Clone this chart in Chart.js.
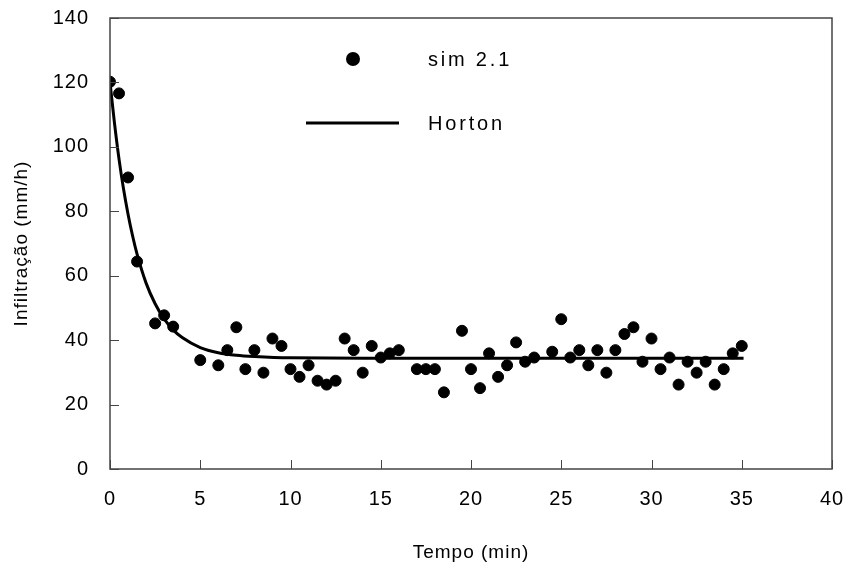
<!DOCTYPE html>
<html>
<head>
<meta charset="utf-8">
<script src="https://cdn.jsdelivr.net/npm/chart.js@4.4.1/dist/chart.umd.min.js"></script>
<style>
  html, body { margin: 0; padding: 0; background: #fff; }
  #wrap { width: 846px; height: 571px; }
</style>
</head>
<body>
<div id="wrap"><canvas id="chart" width="846" height="571"></canvas></div>
<script>
// measured infiltration (sim 2.1)
const simTime = [0, 0.5, 1, 1.5, 2.5, 3, 3.5, 5, 6, 6.5, 7, 7.5, 8, 8.5, 9, 9.5, 10,
  10.5, 11, 11.5, 12, 12.5, 13, 13.5, 14, 14.5, 15, 15.5, 16, 17, 17.5, 18, 18.5,
  19.5, 20, 20.5, 21, 21.5, 22, 22.5, 23, 23.5, 24.5, 25, 25.5, 26, 26.5, 27, 27.5,
  28, 28.5, 29, 29.5, 30, 30.5, 31, 31.5, 32, 32.5, 33, 33.5, 34, 34.5, 35];
const simRate = [120.2, 116.6, 90.5, 64.4, 45.2, 47.7, 44.2, 33.8, 32.2, 36.9, 44.0, 31.0, 36.9, 29.9, 40.5, 38.2, 31.0,
  28.6, 32.2, 27.4, 26.2, 27.4, 40.5, 36.9, 29.9, 38.2, 34.6, 35.9, 36.9, 31.0, 31.0, 31.0, 23.8,
  42.9, 31.0, 25.1, 35.9, 28.6, 32.2, 39.3, 33.3, 34.6, 36.4, 46.5, 34.6, 36.9, 32.2, 36.9, 29.9,
  36.9, 41.9, 44.0, 33.3, 40.5, 31.0, 34.6, 26.2, 33.3, 29.9, 33.3, 26.2, 31.0, 35.9, 38.2];

// fitted Horton curve
const hortonTime = [0, 0.25, 0.5, 0.75, 1, 1.25, 1.5, 2, 2.5, 3, 3.5, 4, 5, 6, 7, 8, 10, 15, 20, 25, 30, 35.1];
const hortonRate = [120, 107.3, 96.2, 86.9, 79.1, 72.4, 66.7, 57.7, 51.3, 46.6, 43.2, 40.8, 37.7, 36.1, 35.3, 34.9, 34.5, 34.4, 34.4, 34.4, 34.4, 34.4];

const xTicks = [0, 5, 10, 15, 20, 25, 30, 35, 40];
const yTicks = [0, 20, 40, 60, 80, 100, 120, 140];

const FONT = '"Liberation Sans", Arial, sans-serif';

const toPoints = (xs, ys) => xs.map((x, i) => ({ x: x, y: ys[i] }));

// a little letter spacing for the axis text
const spacingPlugin = {
  id: 'spacing',
  beforeUpdate(chart) { chart.ctx.letterSpacing = '1px'; },
  beforeDraw(chart) { chart.ctx.letterSpacing = '1px'; }
};

// frame, inward ticks and the legend inside the plot
const framePlugin = {
  id: 'frame',
  afterDraw(chart) {
    const ctx = chart.ctx;
    const a = chart.chartArea;
    const xs = chart.scales.x, ys = chart.scales.y;
    ctx.save();
    ctx.strokeStyle = '#444';
    ctx.lineWidth = 1.5;
    ctx.strokeRect(a.left, a.top, a.right - a.left, a.bottom - a.top);
    ctx.beginPath();
    xTicks.forEach(v => {
      const px = Math.round(xs.getPixelForValue(v)) + 0.5;
      ctx.moveTo(px, a.bottom);
      ctx.lineTo(px, a.bottom - 9);
    });
    yTicks.forEach(v => {
      const py = Math.round(ys.getPixelForValue(v)) + 0.5;
      ctx.moveTo(a.left, py);
      ctx.lineTo(a.left + 9, py);
    });
    ctx.lineWidth = 1;
    ctx.stroke();

    // legend
    ctx.fillStyle = '#000';
    ctx.beginPath();
    ctx.arc(353, 59, 7, 0, Math.PI * 2);
    ctx.fill();
    ctx.strokeStyle = '#000';
    ctx.lineWidth = 3;
    ctx.beginPath();
    ctx.moveTo(306, 123);
    ctx.lineTo(399, 123);
    ctx.stroke();
    ctx.letterSpacing = '2.8px';
    ctx.font = '20px ' + FONT;
    ctx.textAlign = 'left';
    ctx.textBaseline = 'middle';
    ctx.fillText('sim 2.1', 428, 60);
    ctx.fillText('Horton', 428, 124);
    ctx.restore();
  }
};

new Chart(document.getElementById('chart'), {
  type: 'scatter',
  data: {
    datasets: [
      {
        label: 'sim 2.1',
        data: toPoints(simTime, simRate),
        backgroundColor: '#000',
        borderColor: '#000',
        pointRadius: 5.5,
        pointHoverRadius: 5.5,
        order: 2
      },
      {
        label: 'Horton',
        type: 'line',
        data: toPoints(hortonTime, hortonRate),
        borderColor: '#000',
        borderWidth: 3,
        pointRadius: 0,
        fill: false,
        cubicInterpolationMode: 'monotone',
        order: 1
      }
    ]
  },
  options: {
    responsive: false,
    animation: false,
    devicePixelRatio: 1,
    layout: { padding: { top: 18, right: 14, left: 0, bottom: 0 } },
    plugins: {
      legend: { display: false },
      tooltip: { enabled: false }
    },
    scales: {
      x: {
        type: 'linear',
        min: 0,
        max: 40,
        afterFit: s => { s.height = 102; s.paddingLeft = 0; s.paddingRight = 0; },
        afterBuildTicks: s => { s.ticks = xTicks.map(v => ({ value: v })); },
        grid: { display: false },
        border: { display: false },
        ticks: { color: '#000', padding: 10, font: { family: FONT, size: 20 } },
        title: {
          display: true,
          text: 'Tempo (min)',
          color: '#000',
          font: { family: FONT, size: 19 },
          padding: { top: 0, bottom: 6.6 }
        }
      },
      y: {
        min: 0,
        max: 140,
        afterFit: s => { s.width = 110; s.paddingTop = 0; s.paddingBottom = 0; },
        afterBuildTicks: s => { s.ticks = yTicks.map(v => ({ value: v })); },
        grid: { display: false },
        border: { display: false },
        ticks: { color: '#000', padding: 13, font: { family: FONT, size: 20 } },
        title: {
          display: true,
          text: 'Infiltração (mm/h)',
          color: '#000',
          font: { family: FONT, size: 19 },
          padding: { top: 10.6, bottom: 0 }
        }
      }
    }
  },
  plugins: [spacingPlugin, framePlugin]
});
</script>
</body>
</html>
